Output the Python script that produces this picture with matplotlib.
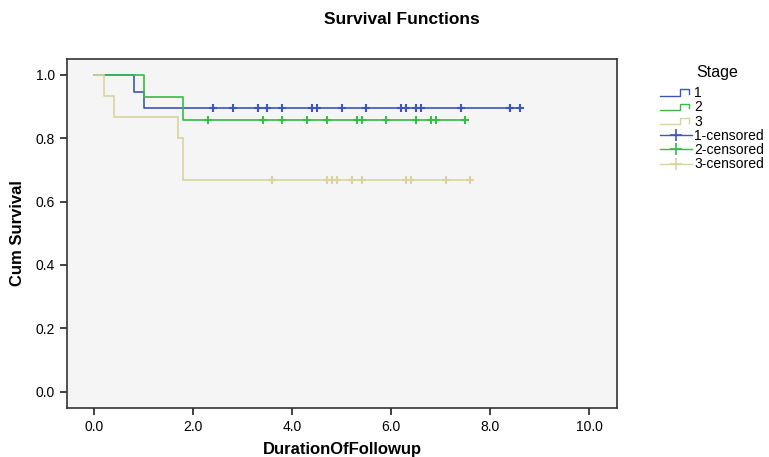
import numpy as np
import matplotlib.pyplot as plt
from matplotlib.lines import Line2D
from matplotlib.legend_handler import HandlerBase

plt.rcParams['font.family'] = ['Liberation Sans', 'DejaVu Sans']

# event times (deaths) and censored times per stage
stage_labels = ['1', '2', '3']
n_at_start = [19, 14, 15]
event_times = [
    [0.8, 1.0],
    [1.0, 1.8],
    [0.2, 0.4, 1.7, 1.8, 1.8],
]
censor_times = [
    [2.4, 2.8, 3.3, 3.5, 3.8, 4.4, 4.5, 5.0, 5.5, 6.2, 6.3, 6.5, 6.6, 7.4, 8.4, 8.4, 8.6],
    [2.3, 3.4, 3.8, 4.3, 4.7, 5.3, 5.4, 5.9, 6.5, 6.8, 6.9, 7.5],
    [3.6, 4.7, 4.8, 4.9, 5.2, 5.4, 6.3, 6.4, 7.1, 7.6],
]
colors = ['#3d55bd', '#38bb48', '#d8d49c']


def km(events, censored, n):
    # product-limit estimate, returns step coords and survival at censored times
    times = sorted(set(events))
    t = [0.0]
    s = [1.0]
    surv = 1.0
    allt = events + censored
    for ti in times:
        d = sum(1 for x in events if x == ti)
        r = sum(1 for x in allt if x >= ti)
        surv *= (1 - d / r)
        t.append(ti)
        s.append(surv)
    t.append(max(allt))
    s.append(surv)
    cs = []
    for c in censored:
        val = 1.0
        for ti, si in zip(t[1:-1], s[1:-1]):
            if ti <= c:
                val = si
        cs.append(val)
    return t, s, cs


class StepHandler(HandlerBase):
    def create_artists(self, legend, orig_handle, xdescent, ydescent,
                       width, height, fontsize, trans):
        x0 = -xdescent
        y0 = -ydescent
        xs = [x0, x0 + width * 0.62, x0 + width * 0.62, x0 + width * 0.92, x0 + width * 0.92]
        ys = [y0 + height * 0.15, y0 + height * 0.15, y0 + height * 0.8, y0 + height * 0.8, y0 + height * 0.3]
        ln = Line2D(xs, ys, color=orig_handle.get_color(), lw=1.0, transform=trans)
        return [ln]


fig = plt.figure(figsize=(7.69, 4.57), dpi=100)
ax = fig.add_axes([0.0871, 0.1072, 0.7152, 0.7637])
ax.set_facecolor('#f5f5f5')

for i in range(3):
    t, s, cs = km(event_times[i], censor_times[i], n_at_start[i])
    ax.step(t, s, where='post', color=colors[i], lw=1.2, zorder=2 + i)
    ax.plot(censor_times[i], cs, ls='none', marker='+', ms=5.5, mew=1.5,
            color=colors[i], zorder=5 + i)

ax.set_xlim(-0.55, 10.56)
ax.set_ylim(-0.052, 1.05)
ax.set_xticks(np.arange(0, 10.1, 2.0))
ax.set_xticklabels(['%.1f' % v for v in np.arange(0, 10.1, 2.0)])
ax.set_yticks(np.arange(0, 1.01, 0.2))
ax.set_yticklabels(['%.1f' % v for v in np.arange(0, 1.01, 0.2)])
ax.tick_params(direction='out', length=5, width=1.2, labelsize=10, color='#222222')
for sp in ax.spines.values():
    sp.set_linewidth(1.2)
    sp.set_color('#333333')

ax.set_xlabel('DurationOfFollowup', fontsize=12, fontweight='bold', labelpad=6)
ax.set_ylabel('Cum Survival', fontsize=12, fontweight='bold', labelpad=8)
fig.text(0.523, 0.958, 'Survival Functions', ha='center', va='center',
         fontsize=12.5, fontweight='bold')
fig.text(717 / 769, 1 - 72 / 457, 'Stage', ha='center', va='center', fontsize=11.5)

handles = []
labels = []
for i in range(3):
    handles.append(Line2D([], [], color=colors[i]))
    labels.append(stage_labels[i])
for i in range(3):
    handles.append(Line2D([], [], color=colors[i], marker='+', ms=9, mew=1.2, lw=1.0))
    labels.append(stage_labels[i] + '-censored')
leg = fig.legend(handles, labels, loc='upper left', bbox_to_anchor=(660 / 769, 1 - 86 / 457),
                 frameon=False, fontsize=10, handlelength=2.3, handletextpad=0.15,
                 labelspacing=0.02, borderaxespad=0, borderpad=0,
                 handler_map={h: StepHandler() for h in handles[:3]})

fig.savefig('out.png', dpi=100)
